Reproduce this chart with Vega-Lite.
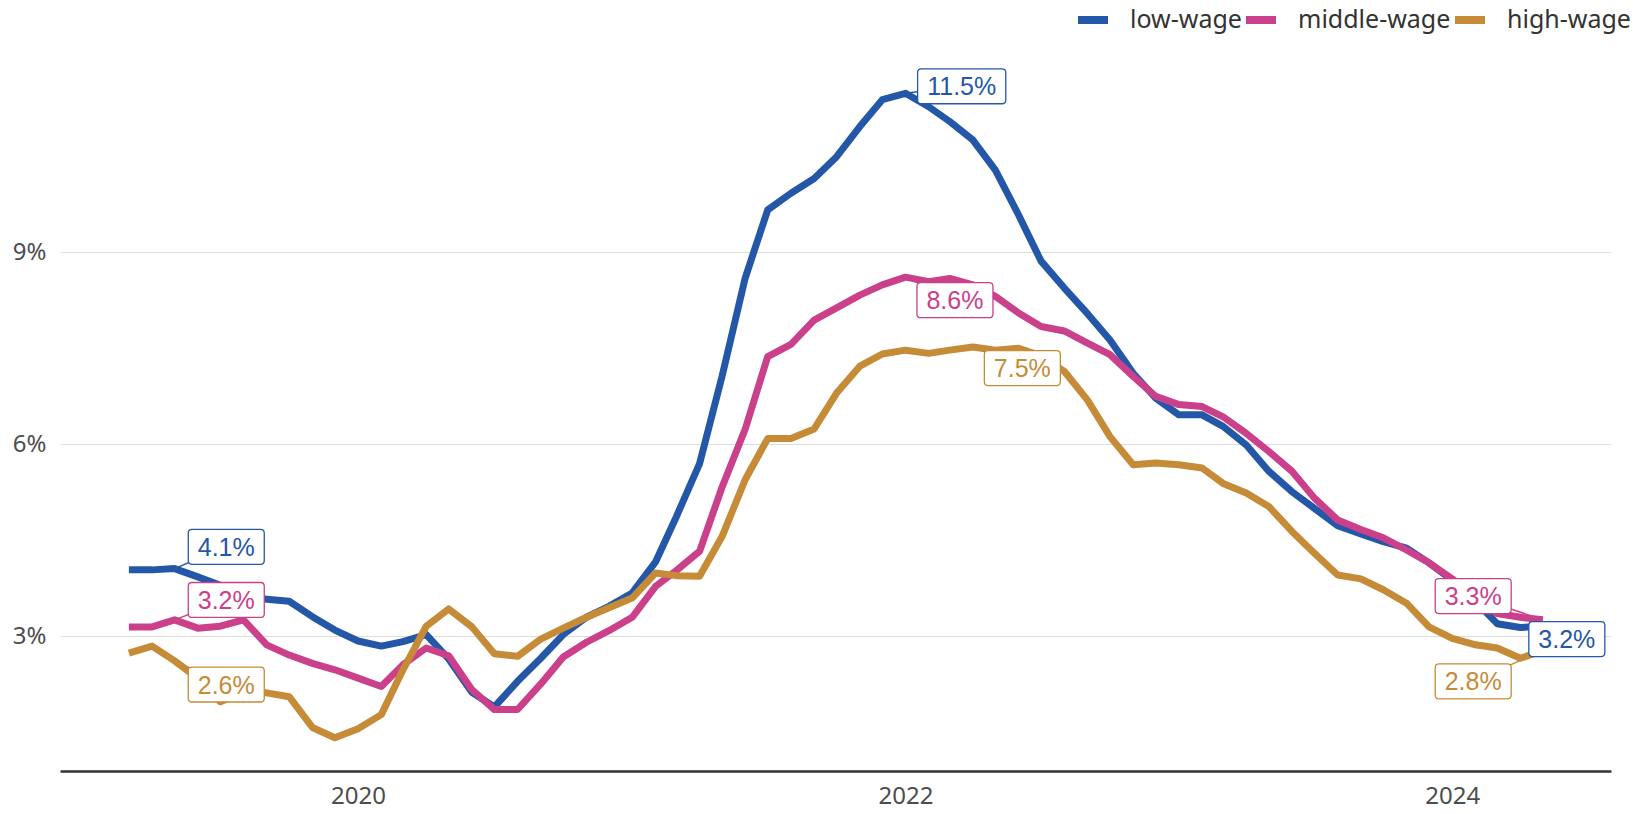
{
  "$schema": "https://vega.github.io/schema/vega-lite/v6.json",
  "width": 1551,
  "height": 711,
  "autosize": {"type": "none"},
  "padding": {"left": 60, "top": 60, "right": 29, "bottom": 43},
  "background": "#ffffff",
  "datasets": {
    "wages": [
      {"month":"2019-03-01","series":"low-wage","growth":4.04},{"month":"2019-04-01","series":"low-wage","growth":4.04},{"month":"2019-05-01","series":"low-wage","growth":4.06},{"month":"2019-06-01","series":"low-wage","growth":3.93},{"month":"2019-07-01","series":"low-wage","growth":3.8},{"month":"2019-08-01","series":"low-wage","growth":3.67},{"month":"2019-09-01","series":"low-wage","growth":3.58},{"month":"2019-10-01","series":"low-wage","growth":3.55},{"month":"2019-11-01","series":"low-wage","growth":3.31},{"month":"2019-12-01","series":"low-wage","growth":3.1},
      {"month":"2020-01-01","series":"low-wage","growth":2.93},{"month":"2020-02-01","series":"low-wage","growth":2.85},{"month":"2020-03-01","series":"low-wage","growth":2.92},{"month":"2020-04-01","series":"low-wage","growth":3.03},{"month":"2020-05-01","series":"low-wage","growth":2.65},{"month":"2020-06-01","series":"low-wage","growth":2.13},{"month":"2020-07-01","series":"low-wage","growth":1.9},{"month":"2020-08-01","series":"low-wage","growth":2.3},{"month":"2020-09-01","series":"low-wage","growth":2.66},{"month":"2020-10-01","series":"low-wage","growth":3.03},{"month":"2020-11-01","series":"low-wage","growth":3.3},{"month":"2020-12-01","series":"low-wage","growth":3.47},
      {"month":"2021-01-01","series":"low-wage","growth":3.68},{"month":"2021-02-01","series":"low-wage","growth":4.16},{"month":"2021-03-01","series":"low-wage","growth":4.87},{"month":"2021-04-01","series":"low-wage","growth":5.7},{"month":"2021-05-01","series":"low-wage","growth":7.06},{"month":"2021-06-01","series":"low-wage","growth":8.6},{"month":"2021-07-01","series":"low-wage","growth":9.66},{"month":"2021-08-01","series":"low-wage","growth":9.92},{"month":"2021-09-01","series":"low-wage","growth":10.15},{"month":"2021-10-01","series":"low-wage","growth":10.49},{"month":"2021-11-01","series":"low-wage","growth":10.96},{"month":"2021-12-01","series":"low-wage","growth":11.38},
      {"month":"2022-01-01","series":"low-wage","growth":11.48},{"month":"2022-02-01","series":"low-wage","growth":11.27},{"month":"2022-03-01","series":"low-wage","growth":11.04},{"month":"2022-04-01","series":"low-wage","growth":10.75},{"month":"2022-05-01","series":"low-wage","growth":10.28},{"month":"2022-06-01","series":"low-wage","growth":9.58},{"month":"2022-07-01","series":"low-wage","growth":8.86},{"month":"2022-08-01","series":"low-wage","growth":8.44},{"month":"2022-09-01","series":"low-wage","growth":8.04},{"month":"2022-10-01","series":"low-wage","growth":7.63},{"month":"2022-11-01","series":"low-wage","growth":7.11},{"month":"2022-12-01","series":"low-wage","growth":6.72},
      {"month":"2023-01-01","series":"low-wage","growth":6.46},{"month":"2023-02-01","series":"low-wage","growth":6.46},{"month":"2023-03-01","series":"low-wage","growth":6.28},{"month":"2023-04-01","series":"low-wage","growth":5.99},{"month":"2023-05-01","series":"low-wage","growth":5.58},{"month":"2023-06-01","series":"low-wage","growth":5.26},{"month":"2023-07-01","series":"low-wage","growth":5.0},{"month":"2023-08-01","series":"low-wage","growth":4.73},{"month":"2023-09-01","series":"low-wage","growth":4.6},{"month":"2023-10-01","series":"low-wage","growth":4.48},{"month":"2023-11-01","series":"low-wage","growth":4.38},{"month":"2023-12-01","series":"low-wage","growth":4.15},
      {"month":"2024-01-01","series":"low-wage","growth":3.88},{"month":"2024-02-01","series":"low-wage","growth":3.55},{"month":"2024-03-01","series":"low-wage","growth":3.2},{"month":"2024-04-01","series":"low-wage","growth":3.14},{"month":"2024-05-01","series":"low-wage","growth":3.16},

      {"month":"2019-03-01","series":"middle-wage","growth":3.15},{"month":"2019-04-01","series":"middle-wage","growth":3.15},{"month":"2019-05-01","series":"middle-wage","growth":3.26},{"month":"2019-06-01","series":"middle-wage","growth":3.13},{"month":"2019-07-01","series":"middle-wage","growth":3.16},{"month":"2019-08-01","series":"middle-wage","growth":3.26},{"month":"2019-09-01","series":"middle-wage","growth":2.87},{"month":"2019-10-01","series":"middle-wage","growth":2.71},{"month":"2019-11-01","series":"middle-wage","growth":2.58},{"month":"2019-12-01","series":"middle-wage","growth":2.48},
      {"month":"2020-01-01","series":"middle-wage","growth":2.35},{"month":"2020-02-01","series":"middle-wage","growth":2.22},{"month":"2020-03-01","series":"middle-wage","growth":2.56},{"month":"2020-04-01","series":"middle-wage","growth":2.82},{"month":"2020-05-01","series":"middle-wage","growth":2.7},{"month":"2020-06-01","series":"middle-wage","growth":2.17},{"month":"2020-07-01","series":"middle-wage","growth":1.86},{"month":"2020-08-01","series":"middle-wage","growth":1.86},{"month":"2020-09-01","series":"middle-wage","growth":2.26},{"month":"2020-10-01","series":"middle-wage","growth":2.68},{"month":"2020-11-01","series":"middle-wage","growth":2.91},{"month":"2020-12-01","series":"middle-wage","growth":3.09},
      {"month":"2021-01-01","series":"middle-wage","growth":3.3},{"month":"2021-02-01","series":"middle-wage","growth":3.78},{"month":"2021-03-01","series":"middle-wage","growth":4.03},{"month":"2021-04-01","series":"middle-wage","growth":4.33},{"month":"2021-05-01","series":"middle-wage","growth":5.33},{"month":"2021-06-01","series":"middle-wage","growth":6.24},{"month":"2021-07-01","series":"middle-wage","growth":7.37},{"month":"2021-08-01","series":"middle-wage","growth":7.56},{"month":"2021-09-01","series":"middle-wage","growth":7.94},{"month":"2021-10-01","series":"middle-wage","growth":8.13},{"month":"2021-11-01","series":"middle-wage","growth":8.33},{"month":"2021-12-01","series":"middle-wage","growth":8.49},
      {"month":"2022-01-01","series":"middle-wage","growth":8.61},{"month":"2022-02-01","series":"middle-wage","growth":8.54},{"month":"2022-03-01","series":"middle-wage","growth":8.59},{"month":"2022-04-01","series":"middle-wage","growth":8.49},{"month":"2022-05-01","series":"middle-wage","growth":8.31},{"month":"2022-06-01","series":"middle-wage","growth":8.05},{"month":"2022-07-01","series":"middle-wage","growth":7.84},{"month":"2022-08-01","series":"middle-wage","growth":7.77},{"month":"2022-09-01","series":"middle-wage","growth":7.58},{"month":"2022-10-01","series":"middle-wage","growth":7.4},{"month":"2022-11-01","series":"middle-wage","growth":7.06},{"month":"2022-12-01","series":"middle-wage","growth":6.75},
      {"month":"2023-01-01","series":"middle-wage","growth":6.62},{"month":"2023-02-01","series":"middle-wage","growth":6.59},{"month":"2023-03-01","series":"middle-wage","growth":6.43},{"month":"2023-04-01","series":"middle-wage","growth":6.17},{"month":"2023-05-01","series":"middle-wage","growth":5.89},{"month":"2023-06-01","series":"middle-wage","growth":5.58},{"month":"2023-07-01","series":"middle-wage","growth":5.16},{"month":"2023-08-01","series":"middle-wage","growth":4.82},{"month":"2023-09-01","series":"middle-wage","growth":4.67},{"month":"2023-10-01","series":"middle-wage","growth":4.54},{"month":"2023-11-01","series":"middle-wage","growth":4.35},{"month":"2023-12-01","series":"middle-wage","growth":4.15},
      {"month":"2024-01-01","series":"middle-wage","growth":3.9},{"month":"2024-02-01","series":"middle-wage","growth":3.62},{"month":"2024-03-01","series":"middle-wage","growth":3.36},{"month":"2024-04-01","series":"middle-wage","growth":3.3},{"month":"2024-05-01","series":"middle-wage","growth":3.26},

      {"month":"2019-03-01","series":"high-wage","growth":2.74},{"month":"2019-04-01","series":"high-wage","growth":2.85},{"month":"2019-05-01","series":"high-wage","growth":2.62},{"month":"2019-06-01","series":"high-wage","growth":2.35},{"month":"2019-07-01","series":"high-wage","growth":1.98},{"month":"2019-08-01","series":"high-wage","growth":2.13},{"month":"2019-09-01","series":"high-wage","growth":2.12},{"month":"2019-10-01","series":"high-wage","growth":2.06},{"month":"2019-11-01","series":"high-wage","growth":1.58},{"month":"2019-12-01","series":"high-wage","growth":1.42},
      {"month":"2020-01-01","series":"high-wage","growth":1.56},{"month":"2020-02-01","series":"high-wage","growth":1.78},{"month":"2020-03-01","series":"high-wage","growth":2.48},{"month":"2020-04-01","series":"high-wage","growth":3.16},{"month":"2020-05-01","series":"high-wage","growth":3.43},{"month":"2020-06-01","series":"high-wage","growth":3.15},{"month":"2020-07-01","series":"high-wage","growth":2.73},{"month":"2020-08-01","series":"high-wage","growth":2.69},{"month":"2020-09-01","series":"high-wage","growth":2.96},{"month":"2020-10-01","series":"high-wage","growth":3.13},{"month":"2020-11-01","series":"high-wage","growth":3.3},{"month":"2020-12-01","series":"high-wage","growth":3.45},
      {"month":"2021-01-01","series":"high-wage","growth":3.6},{"month":"2021-02-01","series":"high-wage","growth":3.99},{"month":"2021-03-01","series":"high-wage","growth":3.95},{"month":"2021-04-01","series":"high-wage","growth":3.94},{"month":"2021-05-01","series":"high-wage","growth":4.56},{"month":"2021-06-01","series":"high-wage","growth":5.45},{"month":"2021-07-01","series":"high-wage","growth":6.09},{"month":"2021-08-01","series":"high-wage","growth":6.09},{"month":"2021-09-01","series":"high-wage","growth":6.24},{"month":"2021-10-01","series":"high-wage","growth":6.8},{"month":"2021-11-01","series":"high-wage","growth":7.22},{"month":"2021-12-01","series":"high-wage","growth":7.41},
      {"month":"2022-01-01","series":"high-wage","growth":7.47},{"month":"2022-02-01","series":"high-wage","growth":7.42},{"month":"2022-03-01","series":"high-wage","growth":7.47},{"month":"2022-04-01","series":"high-wage","growth":7.52},{"month":"2022-05-01","series":"high-wage","growth":7.47},{"month":"2022-06-01","series":"high-wage","growth":7.5},{"month":"2022-07-01","series":"high-wage","growth":7.38},{"month":"2022-08-01","series":"high-wage","growth":7.14},{"month":"2022-09-01","series":"high-wage","growth":6.69},{"month":"2022-10-01","series":"high-wage","growth":6.12},{"month":"2022-11-01","series":"high-wage","growth":5.68},{"month":"2022-12-01","series":"high-wage","growth":5.71},
      {"month":"2023-01-01","series":"high-wage","growth":5.68},{"month":"2023-02-01","series":"high-wage","growth":5.63},{"month":"2023-03-01","series":"high-wage","growth":5.39},{"month":"2023-04-01","series":"high-wage","growth":5.24},{"month":"2023-05-01","series":"high-wage","growth":5.03},{"month":"2023-06-01","series":"high-wage","growth":4.64},{"month":"2023-07-01","series":"high-wage","growth":4.3},{"month":"2023-08-01","series":"high-wage","growth":3.96},{"month":"2023-09-01","series":"high-wage","growth":3.9},{"month":"2023-10-01","series":"high-wage","growth":3.73},{"month":"2023-11-01","series":"high-wage","growth":3.52},{"month":"2023-12-01","series":"high-wage","growth":3.15},
      {"month":"2024-01-01","series":"high-wage","growth":2.97},{"month":"2024-02-01","series":"high-wage","growth":2.87},{"month":"2024-03-01","series":"high-wage","growth":2.82},{"month":"2024-04-01","series":"high-wage","growth":2.66},{"month":"2024-05-01","series":"high-wage","growth":2.78}
    ],
    "labels": [
      {"series":"low-wage","month":"2019-05-01","growth":4.06,"lmonth":"2019-07-09","lgrowth":4.4,"label":"4.1%"},
      {"series":"middle-wage","month":"2019-05-01","growth":3.26,"lmonth":"2019-07-09","lgrowth":3.57,"label":"3.2%"},
      {"series":"high-wage","month":"2019-05-01","growth":2.62,"lmonth":"2019-07-09","lgrowth":2.25,"label":"2.6%"},
      {"series":"low-wage","month":"2022-01-01","growth":11.48,"lmonth":"2022-03-17","lgrowth":11.59,"label":"11.5%"},
      {"series":"middle-wage","month":"2022-01-01","growth":8.61,"lmonth":"2022-03-08","lgrowth":8.25,"label":"8.6%"},
      {"series":"high-wage","month":"2022-06-01","growth":7.5,"lmonth":"2022-06-06","lgrowth":7.19,"label":"7.5%"},
      {"series":"low-wage","month":"2024-05-01","growth":3.16,"lmonth":"2024-06-02","lgrowth":2.96,"label":"3.2%"},
      {"series":"middle-wage","month":"2024-05-01","growth":3.26,"lmonth":"2024-01-29","lgrowth":3.63,"label":"3.3%"},
      {"series":"high-wage","month":"2024-05-01","growth":2.78,"lmonth":"2024-01-29","lgrowth":2.3,"label":"2.8%"}
    ]
  },
  "layer": [
    {
      "data": {"name": "labels", "format": {"parse": {"month": "date", "lmonth": "date"}}},
      "mark": {"type": "rule", "strokeWidth": 1.5},
      "encoding": {
        "x": {"field": "month", "type": "temporal", "title": null, "scale": {"type": "utc", "domain": [{"year": 2018, "month": 11, "date": 29, "utc": true}, {"year": 2024, "month": 7, "date": 31, "utc": true}]}},
        "x2": {"field": "lmonth"},
        "y": {"field": "growth", "type": "quantitative", "title": null, "scale": {"domain": [0.9, 12], "nice": false, "zero": false}},
        "y2": {"field": "lgrowth"},
        "stroke": {"field": "series", "type": "nominal", "legend": null, "scale": {"range": ["#c68b37", "#2457a8", "#cb408b"]}}
      }
    },
    {
      "data": {"name": "wages", "format": {"parse": {"month": "date"}}},
      "mark": {"type": "line", "strokeWidth": 7, "strokeJoin": "round", "strokeCap": "butt"},
      "encoding": {
        "x": {
          "field": "month", "type": "temporal", "title": null,
          "scale": {"type": "utc", "domain": [{"year": 2018, "month": 11, "date": 29, "utc": true}, {"year": 2024, "month": 7, "date": 31, "utc": true}]},
          "axis": {"values": [{"year": 2020, "month": 1, "date": 1, "utc": true}, {"year": 2022, "month": 1, "date": 1, "utc": true}, {"year": 2024, "month": 1, "date": 1, "utc": true}], "format": "%Y"}
        },
        "y": {
          "field": "growth", "type": "quantitative", "title": null,
          "scale": {"domain": [0.9, 12], "nice": false, "zero": false},
          "axis": {"values": [3, 6, 9], "labelExpr": "datum.value + '%'"}
        },
        "color": {
          "field": "series", "type": "nominal",
          "scale": {"domain": ["low-wage", "middle-wage", "high-wage"], "range": ["#2457a8", "#cb408b", "#c68b37"]},
          "legend": {
            "orient": "none", "legendX": 1014, "legendY": -59, "direction": "horizontal", "title": null,
            "symbolType": "stroke", "symbolStrokeWidth": 8, "symbolSize": 900,
            "labelFont": "Noto Sans", "labelFontSize": 25, "labelColor": "#333333",
            "labelOffset": 18, "columnPadding": -14, "padding": 0
          }
        }
      }
    },
    {
      "data": {"name": "labels", "format": {"parse": {"month": "date", "lmonth": "date"}}},
      "mark": {"type": "point", "filled": true, "fill": "#ffffff", "fillOpacity": 1, "opacity": 1, "strokeWidth": 1.3, "size": 5776},
      "encoding": {
        "x": {"field": "lmonth", "type": "temporal", "title": null},
        "y": {"field": "lgrowth", "type": "quantitative", "title": null},
        "stroke": {"field": "series", "type": "nominal", "legend": null},
        "shape": {
          "condition": {"test": "datum.label === '11.5%'", "value": "M-1.06,-0.46H1.06Q1.16,-0.46,1.16,-0.36V0.36Q1.16,0.46,1.06,0.46H-1.06Q-1.16,0.46,-1.16,0.36V-0.36Q-1.16,-0.46,-1.06,-0.46Z"},
          "value": "M-0.9,-0.46H0.9Q1,-0.46,1,-0.36V0.36Q1,0.46,0.9,0.46H-0.9Q-1,0.46,-1,0.36V-0.36Q-1,-0.46,-0.9,-0.46Z"
        }
      }
    },
    {
      "data": {"name": "labels", "format": {"parse": {"month": "date", "lmonth": "date"}}},
      "mark": {"type": "text", "font": "Liberation Sans", "fontSize": 25, "align": "center", "baseline": "middle", "dy": 1},
      "encoding": {
        "x": {"field": "lmonth", "type": "temporal", "title": null},
        "y": {"field": "lgrowth", "type": "quantitative", "title": null},
        "text": {"field": "label", "type": "nominal"},
        "fill": {"field": "series", "type": "nominal", "legend": null, "scale": {"range": ["#c68b37", "#2457a8", "#cb408b"]}}
      }
    }
  ],
  "config": {
    "view": {"stroke": null},
    "font": "Noto Sans",
    "axisX": {"domainColor": "#333333", "domainWidth": 2.5, "ticks": false, "grid": false, "labelFont": "Noto Sans", "labelFontSize": 24, "labelColor": "#4d4d4d", "labelPadding": 13},
    "axisY": {"domain": false, "ticks": false, "grid": true, "gridColor": "#dddddd", "gridWidth": 1, "labelFont": "Noto Sans", "labelFontSize": 24, "labelColor": "#4d4d4d", "labelPadding": 14}
  }
}
